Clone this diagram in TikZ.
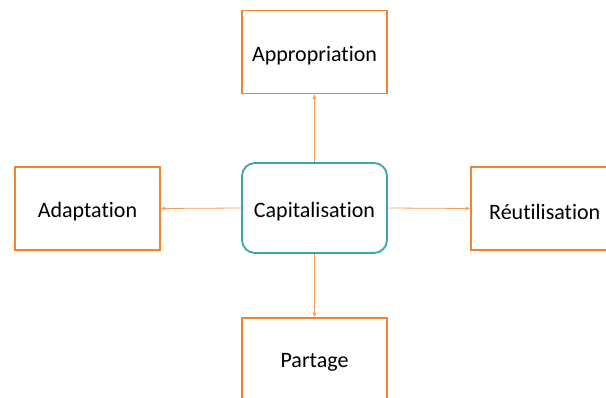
\documentclass[tikz,border=0pt]{standalone}
\usepackage{fontspec}
\setmainfont[Ligatures=NoCommon]{Carlito}
\usetikzlibrary{arrows.meta}
\definecolor{orng}{HTML}{F0842F}
\definecolor{teal2}{HTML}{3AA6AC}
\begin{document}
\begin{tikzpicture}[x=1pt,y=-1pt,
  obox/.style={draw=orng,line width=1.8pt,fill=white,minimum width=145pt,minimum height=83pt,inner sep=0pt},
  cbox/.style={draw=teal2,line width=1.8pt,fill=white,rounded corners=13pt,minimum width=145pt,minimum height=90pt,inner sep=0pt},
  lbl/.style={font=\fontsize{22}{26}\selectfont,inner sep=0pt},
  conn/.style={draw=orng!80,line width=0.8pt,-{Stealth[length=5pt,width=4pt]}}]
\useasboundingbox (0,0) rectangle (606,398);
\begin{scope}
\clip (0,0) rectangle (606,398);
\node[cbox] (cap) at (314.5,208) {};
\node[obox] (app) at (314.5,52) {};
\node[obox] (ada) at (87.5,208.5) {};
\node[obox, minimum width=150pt] (reu) at (546,208.5) {};
\node[obox, minimum height=100pt] (par) at (314.5,368) {};
\node[lbl] (capt) at (314.5,212) {Capitalisation};
\node[lbl] (appt) at (314.5,56) {Appropriation};
\node[lbl] (adat) at (87.5,212) {Adaptation};
\node[lbl,anchor=west] (reut) at (489,212) {Réutilisation};
\node[lbl] (part) at (314.5,362) {Partage};
\draw[conn] (cap.north) -- (app.south);
\draw[conn] (cap.west) -- (ada.east);
\draw[conn] (cap.east) -- (reu.west);
\draw[conn] (cap.south) -- (par.north);
\end{scope}
\end{tikzpicture}
\end{document}
